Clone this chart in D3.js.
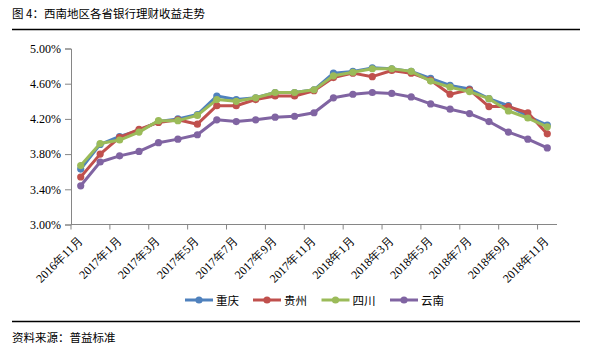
<!DOCTYPE html>
<html>
<head>
<meta charset="utf-8">
<script src="https://cdn.jsdelivr.net/npm/d3@7"></script>
<style>
  body { margin: 0; background: #fff; }
  svg text { fill: #000; }
</style>
</head>
<body>
<svg id="chart"></svg>
<script>
// monthly categories 2016-11 .. 2018-11
const months = ['2016年11月','2016年12月','2017年1月','2017年2月','2017年3月','2017年4月','2017年5月','2017年6月',
  '2017年7月','2017年8月','2017年9月','2017年10月','2017年11月','2017年12月','2018年1月','2018年2月',
  '2018年3月','2018年4月','2018年5月','2018年6月','2018年7月','2018年8月','2018年9月','2018年10月','2018年11月'];
const yTicks = [3.0, 3.4, 3.8, 4.2, 4.6, 5.0];
const seriesNames = ['重庆','贵州','四川','云南'];
const chongqing = [3.63,3.91,4.00,4.07,4.17,4.20,4.25,4.46,4.42,4.44,4.50,4.50,4.53,4.72,4.74,4.78,4.77,4.74,4.66,4.58,4.54,4.43,4.35,4.23,4.13];
const guizhou   = [3.54,3.80,3.99,4.08,4.16,4.19,4.14,4.35,4.35,4.42,4.46,4.46,4.52,4.67,4.72,4.68,4.75,4.72,4.64,4.48,4.53,4.34,4.34,4.27,4.03];
const sichuan   = [3.67,3.92,3.96,4.05,4.18,4.18,4.24,4.42,4.40,4.44,4.50,4.50,4.53,4.69,4.73,4.77,4.77,4.74,4.63,4.56,4.51,4.43,4.29,4.21,4.11];
const yunnan    = [3.44,3.71,3.78,3.83,3.93,3.97,4.02,4.19,4.17,4.19,4.22,4.23,4.27,4.44,4.48,4.50,4.49,4.45,4.37,4.31,4.26,4.17,4.05,3.97,3.87];
const colors = ['#4F81BD','#C0504D','#9BBB59','#8064A2'];

const width = 595, height = 353;
const svg = d3.select('#chart').attr('width', width).attr('height', height);
const serif = '"Liberation Serif","Times New Roman",serif';
const cjk = '"Noto Sans CJK SC",sans-serif';

const x = d3.scaleBand().domain(months).range([71, 557]);
const y = d3.scaleLinear().domain([3.0, 5.0]).range([224.5, 48.5]);

// title + rules
svg.append('text').attr('x', 12).attr('y', 18).style('font-family', cjk).style('font-size', '11.5px')
  .text('图 4：西南地区各省银行理财收益走势');
svg.append('line').attr('x1', 12).attr('x2', 580).attr('y1', 29.5).attr('y2', 29.5).attr('stroke', '#000').attr('stroke-width', 1.3);
svg.append('line').attr('x1', 12).attr('x2', 580).attr('y1', 321.5).attr('y2', 321.5).attr('stroke', '#000').attr('stroke-width', 1.3);
svg.append('text').attr('x', 12).attr('y', 342).style('font-family', cjk).style('font-size', '11.5px')
  .text('资料来源：普益标准');

// y axis
const yAxis = svg.append('g').attr('transform', 'translate(71,0)')
  .call(d3.axisLeft(y).tickValues(yTicks).tickSize(6).tickPadding(4).tickFormat(d => d.toFixed(2) + '%'));
yAxis.select('.domain').attr('stroke', '#868686');
yAxis.selectAll('.tick line').attr('stroke', '#868686');
yAxis.selectAll('text').style('font-family', serif).style('font-size', '12px');

// x axis: ticks every 2 categories, between categories
const xg = svg.append('g').attr('transform', 'translate(0,224.5)');
xg.append('line').attr('x1', 71).attr('x2', 557).attr('stroke', '#868686');
xg.selectAll('.xt').data(months.filter((d, i) => i % 2 === 0)).enter().append('line')
  .attr('x1', d => x(d)).attr('x2', d => x(d)).attr('y1', 0).attr('y2', 5).attr('stroke', '#868686');
xg.selectAll('.xl').data(months.filter((d, i) => i % 2 === 0)).enter().append('text')
  .attr('transform', d => `translate(${x(d) + x.bandwidth() / 2 + 2.5},${17}) rotate(-45)`)
  .attr('text-anchor', 'end')
  .style('font-family', serif).style('font-size', '12px')
  .text(d => d);

// series
const allData = [chongqing, guizhou, sichuan, yunnan];
const line = d3.line().x((d, i) => x(months[i]) + x.bandwidth() / 2).y(d => y(d));
allData.forEach((vals, s) => {
  const g = svg.append('g');
  g.append('path').attr('d', line(vals)).attr('fill', 'none')
    .attr('stroke', colors[s]).attr('stroke-width', 3).attr('stroke-linejoin', 'round');
  g.selectAll('circle').data(vals).enter().append('circle')
    .attr('cx', (d, i) => x(months[i]) + x.bandwidth() / 2)
    .attr('cy', d => y(d)).attr('r', 3.6).attr('fill', colors[s]);
});

// legend
const legX = [185, 253, 321.5, 390];
seriesNames.forEach((name, s) => {
  const g = svg.append('g').attr('transform', `translate(${legX[s]},300)`);
  g.append('line').attr('x1', 0).attr('x2', 28).attr('stroke', colors[s]).attr('stroke-width', 3);
  g.append('circle').attr('cx', 14).attr('r', 3.6).attr('fill', colors[s]);
  g.append('text').attr('x', 31).attr('y', 4.5).style('font-family', cjk).style('font-size', '11.5px').text(name);
});
</script>
</body>
</html>
